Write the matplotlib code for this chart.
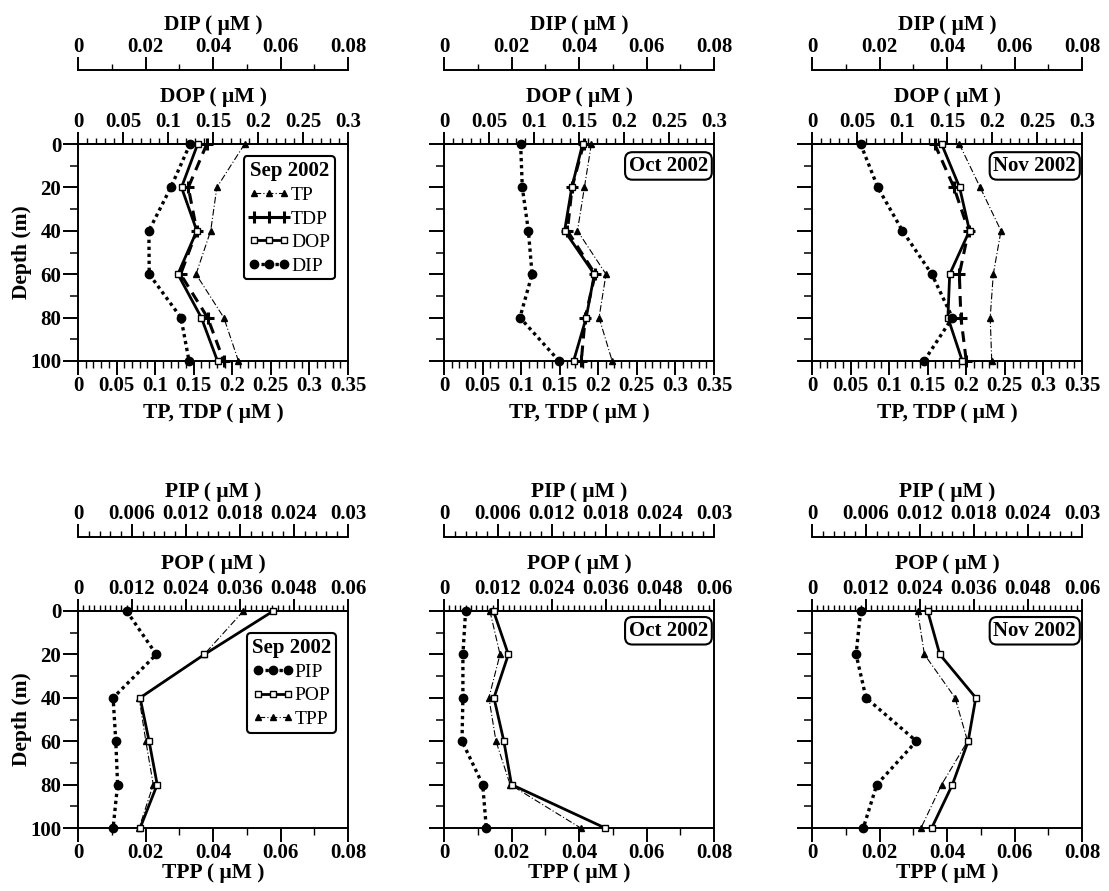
import matplotlib
matplotlib.use("Agg")
import matplotlib.pyplot as plt
from matplotlib.ticker import FixedLocator, MultipleLocator, FuncFormatter

plt.rcParams["font.family"] = ["Liberation Serif", "DejaVu Serif"]

# ---------------- data ----------------
depth = [0, 20, 40, 60, 80, 100]
months = ["Sep 2002", "Oct 2002", "Nov 2002"]

# dissolved / total phosphorus (uM)
tp_sep = [0.216, 0.180, 0.172, 0.153, 0.189, 0.208]
tp_oct = [0.191, 0.182, 0.173, 0.210, 0.201, 0.218]
tp_nov = [0.191, 0.218, 0.245, 0.235, 0.231, 0.233]

tdp_sep = [0.167, 0.143, 0.154, 0.133, 0.168, 0.189]
tdp_oct = [0.181, 0.166, 0.160, 0.196, 0.183, 0.178]
tdp_nov = [0.159, 0.184, 0.203, 0.191, 0.193, 0.200]

dop_sep = [0.133, 0.115, 0.132, 0.111, 0.137, 0.155]
dop_oct = [0.154, 0.142, 0.134, 0.167, 0.158, 0.144]
dop_nov = [0.144, 0.164, 0.175, 0.153, 0.151, 0.167]

dip_sep = [0.0332, 0.0275, 0.0210, 0.0211, 0.0305, 0.0329]
dip_oct = [0.0227, 0.0232, 0.0250, 0.0261, 0.0225, 0.0341]
dip_nov = [0.0144, 0.0195, 0.0268, 0.0355, 0.0416, 0.0332]

# particulate phosphorus (uM)
pip_sep = [0.0054, 0.0087, 0.0039, 0.0042, 0.0044, 0.0039]
pip_oct = [0.0024, 0.0021, 0.0021, 0.0020, 0.0043, 0.0047]
pip_nov = [0.0054, 0.0049, 0.0060, 0.0116, 0.0072, 0.0057]

pop_sep = [0.0434, 0.0281, 0.0138, 0.0158, 0.0176, 0.0138]
pop_oct = [0.0110, 0.0143, 0.0111, 0.0133, 0.0150, 0.0358]
pop_nov = [0.0257, 0.0284, 0.0364, 0.0347, 0.0312, 0.0266]

tpp_sep = [0.0490, 0.0374, 0.0181, 0.0201, 0.0223, 0.0181]
tpp_oct = [0.0136, 0.0166, 0.0133, 0.0154, 0.0196, 0.0405]
tpp_nov = [0.0313, 0.0333, 0.0424, 0.0461, 0.0384, 0.0323]

tp_all = [tp_sep, tp_oct, tp_nov]
tdp_all = [tdp_sep, tdp_oct, tdp_nov]
dop_all = [dop_sep, dop_oct, dop_nov]
dip_all = [dip_sep, dip_oct, dip_nov]
pip_all = [pip_sep, pip_oct, pip_nov]
pop_all = [pop_sep, pop_oct, pop_nov]
tpp_all = [tpp_sep, tpp_oct, tpp_nov]

# tick values of each scale
tp_ticks = [i * 0.05 for i in range(8)]
dop_ticks = [i * 0.05 for i in range(7)]
dip_ticks = [i * 0.02 for i in range(5)]
tpp_ticks = [i * 0.02 for i in range(5)]
pop_ticks = [i * 0.012 for i in range(6)]
pip_ticks = [i * 0.006 for i in range(6)]
depth_ticks = [0, 20, 40, 60, 80, 100]

UNIT = " ( μM )"

# ---------------- styling ----------------
W, H = 1109, 891
fig = plt.figure(figsize=(W / 100, H / 100), dpi=100)

TICK_FS = 15
LABEL_FS = 15.5
SPINE_LW = 1.4

fmt = FuncFormatter(lambda v, _: "%g" % round(v, 6))

sty = {
    "TP": dict(color="black", lw=0.8, ls=(0, (6, 2, 1, 2)), marker="^", ms=4.5, mfc="black", mec="black"),
    "TDP": dict(color="black", lw=2.2, ls=(0, (3.5, 2.3)), marker="+", ms=8, mew=2.2),
    "DOP": dict(color="black", lw=2.0, ls="-", marker="s", ms=4.5, mfc="white", mec="black", mew=1.0),
    "DIP": dict(color="black", lw=2.4, ls=(0, (1.0, 1.1)), marker="o", ms=6, mfc="black", mec="black"),
}
sty["PIP"] = sty["DIP"]
sty["POP"] = sty["DOP"]
sty["TPP"] = sty["TP"]


def rect(left_px, top_px, w_px=270, h_px=217):
    return [left_px / W, 1 - (top_px + h_px) / H, w_px / W, h_px / H]


def set_x(axis_ax, ticks, minor, lim):
    axis_ax.set_xlim(*lim)
    axis_ax.xaxis.set_major_locator(FixedLocator(ticks))
    axis_ax.xaxis.set_minor_locator(MultipleLocator(minor))
    axis_ax.xaxis.set_major_formatter(fmt)


def make_panel(left, top, bottom_spec, top_spec, far_spec, first_col, low_row):
    ax = fig.add_axes(rect(left, top))
    ax.set_ylim(100, 0)
    ax.yaxis.set_major_locator(FixedLocator(depth_ticks))
    ax.yaxis.set_minor_locator(MultipleLocator(10))
    for s in ax.spines.values():
        s.set_linewidth(SPINE_LW)
    ax.tick_params(axis="y", which="major", direction="out", length=11, width=SPINE_LW,
                   labelsize=TICK_FS, labelleft=first_col, pad=1, right=False)
    ax.tick_params(axis="y", which="minor", direction="out", length=6, width=1.1, right=False)
    for t in ax.get_yticklabels():
        t.set_fontweight("bold")
    if first_col:
        ax.set_ylabel("Depth (m)", fontsize=LABEL_FS, fontweight="bold", labelpad=-1)

    # bottom axis
    blabel, bticks, bminor, blim = bottom_spec
    set_x(ax, bticks, bminor, blim)
    ax.tick_params(axis="x", which="major", direction="out", length=10, width=SPINE_LW,
                   labelsize=TICK_FS, pad=1, top=False)
    ax.tick_params(axis="x", which="minor", direction="out", length=5, width=1.0, top=False)
    ax.set_xlabel(blabel + UNIT, fontsize=LABEL_FS, fontweight="bold",
                  labelpad=0 if low_row else 5)

    # top axis on the plot frame
    axt = ax.twiny()
    tlabel, tticks, tminor, tlim = top_spec
    set_x(axt, tticks, tminor, tlim)
    for k in ("left", "right", "bottom"):
        axt.spines[k].set_visible(False)
    axt.spines["top"].set_linewidth(SPINE_LW)
    axt.tick_params(axis="x", which="major", direction="out", length=8.5, width=SPINE_LW,
                    labelsize=TICK_FS, pad=0)
    axt.tick_params(axis="x", which="minor", direction="out", length=4, width=1.0)
    axt.set_xlabel(tlabel + UNIT, fontsize=LABEL_FS, fontweight="bold", labelpad=7)

    # detached axis above
    axf = ax.twiny()
    flabel, fticks, fminor, flim = far_spec
    set_x(axf, fticks, fminor, flim)
    for k in ("left", "right", "bottom"):
        axf.spines[k].set_visible(False)
    axf.spines["top"].set_position(("axes", 1.341))
    axf.spines["top"].set_linewidth(SPINE_LW)
    axf.tick_params(axis="x", which="major", direction="out", length=9.5, width=SPINE_LW,
                    labelsize=TICK_FS, pad=0)
    axf.tick_params(axis="x", which="minor", direction="out", length=4.5, width=1.0)
    axf.set_xlabel(flabel + UNIT, fontsize=LABEL_FS, fontweight="bold", labelpad=5)

    for a in (ax, axt, axf):
        for t in a.get_xticklabels():
            t.set_fontweight("bold")
    return ax, axt, axf


def add_tag(axis_ax, text, top_frac):
    axis_ax.text(0.978, top_frac, text, transform=axis_ax.transAxes, ha="right", va="top",
                 fontsize=15, fontweight="bold", zorder=10,
                 bbox=dict(boxstyle="round,pad=0.18,rounding_size=0.35", fc="white", ec="black", lw=1.5))


def add_legend(axis_ax, handles, labels, title, anchor):
    leg = axis_ax.legend(handles, labels, title=title, loc="upper right", bbox_to_anchor=anchor,
                         numpoints=3, handlelength=2.15, handletextpad=0.05, labelspacing=0.3,
                         borderpad=0.25, borderaxespad=0, fontsize=14, title_fontsize=15,
                         frameon=True, fancybox=True, framealpha=1, edgecolor="black")
    leg.get_title().set_fontweight("bold")
    leg.get_frame().set_linewidth(1.5)
    leg.set_zorder(20)


lefts = [78, 444, 812]

# -------- top row: dissolved fractions --------
for i, left in enumerate(lefts):
    ax, axt, axf = make_panel(
        left, 144,
        ("TP, TDP", tp_ticks, 0.01, (0, 0.35)),
        ("DOP", dop_ticks, 0.01, (0, 0.3)),
        ("DIP", dip_ticks, 0.01, (0, 0.08)),
        i == 0, False,
    )
    h_dip, = axf.plot(dip_all[i], depth, clip_on=False, zorder=3, **sty["DIP"])
    h_dop, = axt.plot(dop_all[i], depth, clip_on=False, zorder=4, **sty["DOP"])
    h_tp, = ax.plot(tp_all[i], depth, clip_on=False, zorder=3, **sty["TP"])
    h_tdp, = ax.plot(tdp_all[i], depth, clip_on=False, zorder=3, **sty["TDP"])
    if i == 0:
        add_legend(axf, [h_tp, h_tdp, h_dop, h_dip], ["TP", "TDP", "DOP", "DIP"], months[i],
                   (0.952, 0.945))
    else:
        add_tag(axf, months[i], 0.945)

# -------- bottom row: particulate fractions --------
for i, left in enumerate(lefts):
    ax, axt, axf = make_panel(
        left, 611,
        ("TPP", tpp_ticks, 0.01, (0, 0.08)),
        ("POP", pop_ticks, 0.0012, (0, 0.06)),
        ("PIP", pip_ticks, 0.0012, (0, 0.03)),
        i == 0, True,
    )
    h_pip, = axf.plot(pip_all[i], depth, clip_on=False, zorder=3, **sty["PIP"])
    h_pop, = axt.plot(pop_all[i], depth, clip_on=False, zorder=4, **sty["POP"])
    h_tpp, = ax.plot(tpp_all[i], depth, clip_on=False, zorder=3, **sty["TPP"])
    if i == 0:
        add_legend(axf, [h_pip, h_pop, h_tpp], ["PIP", "POP", "TPP"], months[i],
                   (0.955, 0.90))
    else:
        add_tag(axf, months[i], 0.955)

fig.savefig("out.png", dpi=100)
